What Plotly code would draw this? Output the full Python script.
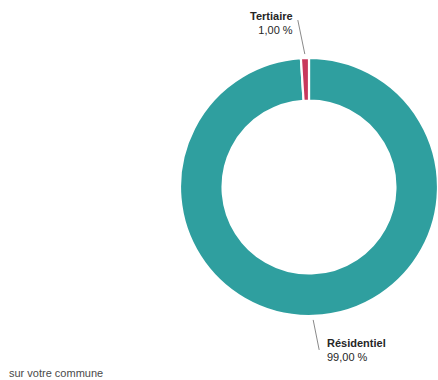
import math
import plotly.graph_objects as go

# Répartition de la consommation par secteur
secteurs = ["Résidentiel", "Tertiaire"]
parts = [99.0, 1.0]
couleurs = ["#2f9f9f", "#c8385c"]

W, H = 438, 380
CX, CY, R = 309, 187, 129  # centre et rayon de l'anneau (px)

fig = go.Figure(go.Pie(
    labels=secteurs,
    values=parts,
    sort=False,
    direction="clockwise",
    rotation=0,
    hole=0.67,
    marker=dict(colors=couleurs, line=dict(color="white", width=2.2)),
    textinfo="none",
    hoverinfo="skip",
    showlegend=False,
    domain=dict(x=[(CX - R) / W, min(1.0, (CX + R) / W)],
                y=[(H - CY - R) / H, (H - CY + R) / H]),
))


def px2paper(x, y):
    return x / W, 1 - y / H


def fmt(v):
    return f"{v:.2f}".replace(".", ",") + " %"


# Angle médian de chaque secteur (sens horaire depuis midi)
total = sum(parts)
angles = []
acc = 0.0
for v in parts:
    angles.append((acc + v / 2) / total * 360)
    acc += v

# Décalages des étiquettes par rapport au bord de l'anneau
offsets = {"Résidentiel": (6, 30), "Tertiaire": (-7, -34)}

for nom, v, a in zip(secteurs, parts, angles):
    t = math.radians(a)
    ex = CX + (R + 4) * math.sin(t)
    ey = CY - (R + 4) * math.cos(t)
    dx, dy = offsets[nom]
    lx, ly = ex + dx, ey + dy
    x0, y0 = px2paper(ex, ey)
    x1, y1 = px2paper(lx, ly)
    fig.add_shape(type="line", xref="paper", yref="paper",
                  x0=x0, y0=y0, x1=x1, y1=y1,
                  line=dict(color="#8a8a8a", width=1))
    txt = f"<b>{nom}</b><br>{fmt(v)}"
    if dy < 0:
        ax, ay = px2paper(lx - 3, ly - 12)
        fig.add_annotation(x=ax, y=ay, xref="paper", yref="paper",
                           text=txt, showarrow=False, align="right",
                           xanchor="right", yanchor="top")
    else:
        ax, ay = px2paper(lx + 6, ly - 15)
        fig.add_annotation(x=ax, y=ay, xref="paper", yref="paper",
                           text=txt, showarrow=False, align="left",
                           xanchor="left", yanchor="top")

fig.add_annotation(x=7 / W, y=1 - 365 / H, xref="paper", yref="paper",
                   text="sur votre commune", showarrow=False,
                   xanchor="left", yanchor="top",
                   font=dict(size=11, color="#4a4a4a"))

fig.update_layout(
    width=W, height=H,
    margin=dict(l=0, r=0, t=0, b=0),
    paper_bgcolor="white",
    plot_bgcolor="white",
    font=dict(family="Liberation Sans, Arial, sans-serif", size=11, color="#262626"),
)

fig.write_html("out.html")
